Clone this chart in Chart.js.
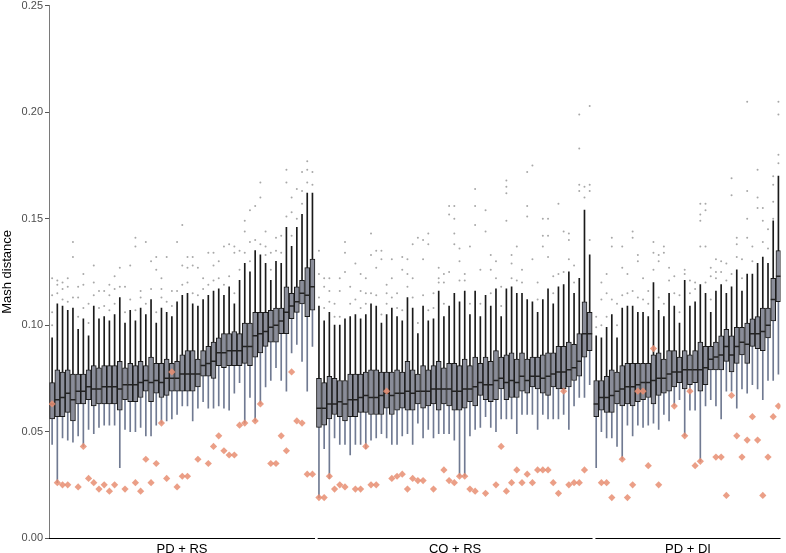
<!DOCTYPE html>
<html>
<head>
<meta charset="utf-8">
<script src="https://cdn.jsdelivr.net/npm/chart.js@4.4.1/dist/chart.umd.min.js"></script>
<style>
  html, body { margin: 0; padding: 0; background: #fff; }
  #wrap { width: 786px; height: 553px; }
</style>
</head>
<body>
<div id="wrap"><canvas id="myChart" width="786" height="553"></canvas></div>
<script>
const facets = ['PD + RS', 'CO + RS', 'PD + DI'];

// PD + RS
const pdrsLo = [0.044,0.026,0.047,0.046,0.045,0.048,0.043,0.051,0.049,0.052,0.053,0.053,0.053,0.033,0.051,0.050,0.050,0.052,0.048,0.048,0.053,0.054,0.055,0.056,0.058,0.062,0.062,0.055,0.061,0.064,0.061,0.061,0.062,0.061,0.060,0.068,0.073,0.054,0.066,0.055,0.063,0.071,0.074,0.080,0.074,0.069,0.087,0.091,0.083,0.069,0.090];
const pdrsQ1 = [0.056,0.057,0.057,0.059,0.055,0.063,0.063,0.065,0.062,0.063,0.063,0.063,0.063,0.060,0.065,0.064,0.064,0.066,0.069,0.064,0.068,0.066,0.067,0.069,0.069,0.069,0.069,0.069,0.071,0.076,0.076,0.075,0.081,0.080,0.081,0.081,0.081,0.082,0.081,0.085,0.087,0.090,0.092,0.092,0.096,0.096,0.103,0.106,0.110,0.104,0.107];
const pdrsMed = [0.063,0.065,0.066,0.068,0.065,0.069,0.069,0.071,0.070,0.070,0.071,0.071,0.071,0.070,0.072,0.072,0.072,0.073,0.074,0.073,0.074,0.073,0.075,0.075,0.075,0.077,0.077,0.077,0.077,0.081,0.082,0.083,0.087,0.087,0.088,0.088,0.088,0.090,0.090,0.095,0.096,0.097,0.099,0.100,0.102,0.106,0.109,0.111,0.115,0.114,0.118];
const pdrsQ3 = [0.073,0.079,0.078,0.079,0.077,0.077,0.077,0.079,0.081,0.080,0.081,0.081,0.081,0.083,0.080,0.082,0.081,0.083,0.081,0.085,0.082,0.082,0.084,0.082,0.083,0.086,0.088,0.088,0.084,0.088,0.090,0.092,0.094,0.096,0.096,0.097,0.096,0.101,0.101,0.106,0.106,0.106,0.107,0.108,0.108,0.118,0.115,0.118,0.121,0.127,0.131];
const pdrsHi = [0.094,0.110,0.109,0.107,0.108,0.098,0.103,0.095,0.109,0.103,0.104,0.102,0.105,0.113,0.101,0.107,0.102,0.108,0.105,0.112,0.101,0.108,0.106,0.104,0.111,0.114,0.115,0.110,0.109,0.112,0.114,0.116,0.117,0.114,0.118,0.110,0.121,0.129,0.125,0.135,0.133,0.129,0.121,0.130,0.129,0.146,0.137,0.146,0.152,0.162,0.162];
const pdrsRef = [0.063,0.026,0.025,0.025,null,0.024,0.043,0.028,0.026,0.023,0.025,0.022,0.025,null,0.023,null,0.026,0.022,0.037,0.026,0.035,0.054,0.028,0.078,0.024,0.029,0.029,null,0.037,null,0.035,0.043,0.048,0.041,0.039,0.039,0.053,0.054,null,0.055,0.063,null,0.035,0.035,0.048,0.041,0.078,0.055,0.054,0.030,0.030];
const pdrsOut = [[0.100,0.106,0.114,0.122],[0.115,0.119,0.121],[0.112,0.117,0.120],[0.111,0.118,0.122],[0.113,0.132,0.139],[0.104,0.113,0.118],[0.108,0.119,0.124],[0.101,0.110],[0.114,0.120,0.128],[0.108,0.116],
  [0.109,0.116],[0.107,0.114,0.119],[0.110,0.117,0.123],[0.118,0.127],[0.106,0.118],[0.112,0.128],[0.107,0.137,0.141],[0.113,0.116],[0.110,0.139],[0.117,0.130],
  [0.106,0.126,0.132],[0.113,0.117,0.122],[0.111,0.132],[0.109,0.116],[0.116,0.139],[0.119,0.128,0.147],[0.120,0.127,0.132],[0.115,0.128,0.132],[0.114,0.127],[0.117,0.122],
  [0.119,0.134],[0.121,0.128,0.134],[0.122,0.130],[0.119,0.137],[0.123,0.138],[0.115,0.134,0.137],[0.126,0.135],[0.134,0.144,0.149],[0.130,0.139,0.154],[0.140,0.156],
  [0.138,0.160,0.167],[0.133,0.137,0.144],[0.126,0.134],[0.135,0.141],[0.134,0.142],[0.151,0.167,0.173],[0.142,0.153,0.160],[0.150,0.164],[0.157,0.163,0.172],[0.167,0.173,0.177],
  [0.166,0.172]];

// CO + RS
const corsLo = [0.019,0.042,0.028,0.047,0.044,0.044,0.039,0.044,0.044,0.042,0.046,0.047,0.049,0.047,0.044,0.044,0.048,0.049,0.044,0.054,0.047,0.051,0.047,0.049,0.049,0.049,0.046,0.029,0.029,0.048,0.051,0.052,0.057,0.052,0.050,0.056,0.056,0.056,0.049,0.058,0.058,0.058,0.051,0.058,0.056,0.056,0.056,0.058,0.051,0.062,0.066,0.066,0.072];
const corsQ1 = [0.052,0.053,0.056,0.058,0.057,0.055,0.057,0.057,0.059,0.059,0.058,0.058,0.058,0.061,0.058,0.060,0.061,0.060,0.060,0.063,0.061,0.062,0.063,0.060,0.063,0.062,0.060,0.060,0.061,0.064,0.062,0.067,0.065,0.064,0.065,0.070,0.065,0.066,0.066,0.069,0.068,0.071,0.070,0.068,0.067,0.071,0.070,0.070,0.071,0.074,0.076,0.085,0.088];
const corsMed = [0.061,0.061,0.063,0.063,0.064,0.063,0.065,0.065,0.066,0.067,0.066,0.066,0.067,0.068,0.067,0.068,0.068,0.069,0.068,0.069,0.069,0.069,0.070,0.070,0.070,0.070,0.069,0.069,0.070,0.070,0.071,0.073,0.072,0.072,0.074,0.075,0.073,0.074,0.073,0.076,0.074,0.076,0.076,0.075,0.076,0.077,0.078,0.078,0.079,0.080,0.083,0.096,0.096];
const corsQ3 = [0.075,0.073,0.076,0.075,0.074,0.074,0.077,0.077,0.077,0.078,0.079,0.079,0.078,0.078,0.078,0.079,0.078,0.083,0.079,0.077,0.081,0.079,0.081,0.083,0.080,0.082,0.082,0.081,0.084,0.081,0.085,0.082,0.085,0.083,0.088,0.085,0.086,0.087,0.084,0.087,0.084,0.085,0.085,0.086,0.087,0.087,0.090,0.090,0.092,0.091,0.096,0.111,0.106];
const corsHi = [0.109,0.102,0.106,0.100,0.100,0.103,0.104,0.105,0.103,0.105,0.110,0.109,0.101,0.105,0.108,0.104,0.102,0.113,0.108,0.096,0.109,0.102,0.103,0.116,0.104,0.109,0.115,0.111,0.116,0.105,0.116,0.104,0.114,0.109,0.117,0.104,0.117,0.118,0.115,0.115,0.112,0.111,0.106,0.112,0.117,0.110,0.118,0.119,0.125,0.115,0.122,0.154,0.133];
const corsRef = [0.019,0.019,0.029,0.023,0.025,0.024,null,0.023,0.023,0.043,0.025,0.025,null,0.069,0.028,0.029,0.030,0.023,0.028,0.027,0.027,null,0.023,null,0.032,0.027,0.026,0.029,0.029,0.023,0.022,null,0.021,null,0.025,0.043,0.022,0.026,0.032,0.026,0.030,0.026,0.032,0.032,0.032,0.026,0.021,0.069,0.025,0.026,0.026,0.032,null];
const corsOut = [[0.113,0.124,0.135],[0.108,0.118,0.122],[0.111,0.116,0.122],[0.104,0.110],[0.104,0.116,0.122],[0.125,0.134,0.139],[0.110,0.118],[0.112,0.129],[0.108,0.116,0.124],[0.110,0.115,0.122],
  [0.115,0.133,0.143],[0.114,0.127,0.135],[0.105,0.131,0.135],[0.110,0.115,0.119],[0.113,0.122,0.131],[0.108,0.115],[0.107,0.126,0.132],[0.118,0.124,0.131],[0.113,0.122,0.138],[0.101,0.141],
  [0.114,0.131,0.140],[0.107,0.138,0.143],[0.108,0.115],[0.120,0.122,0.127],[0.110,0.120,0.124],[0.125,0.152,0.156],[0.138,0.143,0.150,0.156],[0.121,0.130,0.136],[0.121,0.124],[0.110,0.137],
  [0.147,0.156,0.164],[0.110,0.126],[0.144,0.154],[0.115,0.126,0.133],[0.122,0.130],[0.109,0.118],[0.149,0.162,0.165,0.168],[0.122,0.129,0.133],[0.121,0.137],[0.120,0.126],
  [0.151,0.156,0.172],[0.131,0.175],[0.112,0.120],[0.137,0.142,0.150],[0.132,0.142,0.150],[0.115,0.123],[0.124,0.157],[0.125,0.144],[0.131,0.140,0.143],[0.120,0.128],
  [0.163,0.166,0.183,0.199],[0.160,0.165],[0.140,0.163,0.166,0.203]];

// PD + DI
const pddiLo = [0.033,0.050,0.047,0.047,0.043,0.037,0.053,0.048,0.053,0.052,0.053,0.054,0.051,0.058,0.055,0.062,0.065,0.048,0.060,0.060,0.036,0.062,0.065,0.062,0.056,0.069,0.069,0.061,0.070,0.068,0.072,0.070,0.065,0.074,0.074,0.077];
const pddiQ1 = [0.057,0.060,0.059,0.059,0.063,0.062,0.063,0.062,0.064,0.065,0.066,0.063,0.067,0.068,0.069,0.071,0.073,0.070,0.072,0.073,0.069,0.072,0.079,0.079,0.079,0.083,0.078,0.082,0.086,0.082,0.090,0.089,0.088,0.094,0.102,0.111];
const pddiMed = [0.063,0.066,0.066,0.067,0.069,0.070,0.071,0.071,0.072,0.073,0.073,0.074,0.075,0.075,0.077,0.078,0.078,0.079,0.079,0.079,0.079,0.080,0.084,0.085,0.086,0.090,0.086,0.090,0.092,0.091,0.096,0.096,0.097,0.100,0.112,0.123];
const pddiQ3 = [0.074,0.074,0.076,0.079,0.078,0.081,0.082,0.082,0.082,0.082,0.082,0.086,0.087,0.084,0.088,0.088,0.085,0.088,0.086,0.088,0.092,0.090,0.090,0.092,0.095,0.098,0.095,0.099,0.099,0.101,0.103,0.104,0.108,0.108,0.122,0.135];
const pddiHi = [0.095,0.094,0.099,0.105,0.094,0.108,0.109,0.109,0.106,0.106,0.104,0.120,0.107,0.104,0.115,0.109,0.101,0.121,0.109,0.111,0.119,0.115,0.106,0.116,0.119,0.115,0.118,0.126,0.116,0.124,0.124,0.129,0.132,0.129,0.149,0.170];
const pddiRef = [null,0.026,0.026,0.019,null,0.037,0.019,0.025,0.069,0.069,0.034,0.089,0.025,null,null,0.062,null,0.048,0.069,0.034,0.036,null,null,0.038,0.038,0.020,0.067,0.048,0.038,0.046,0.057,0.046,0.020,0.038,0.057,0.062];
const pddiOut = [[0.099,0.104],[0.100,0.112,0.120],[0.104,0.115,0.124],[0.112,0.137,0.141],[0.100,0.110],[0.114,0.127,0.137],[0.115,0.124],[0.116,0.141,0.144],[0.113,0.130,0.133],[0.112,0.122],
  [0.110,0.116],[0.126,0.134,0.139],[0.113,0.130,0.133],[0.110,0.134,0.137],[0.121,0.127],[0.115,0.123],[0.106,0.114],[0.124,0.126],[0.115,0.121],[0.117,0.120],
  [0.137,0.149,0.152,0.157],[0.120,0.137,0.154,0.157],[0.112,0.123,0.127],[0.122,0.125,0.131],[0.125,0.130],[0.121,0.129],[0.124,0.161,0.169],[0.132,0.138,0.141],[0.122,0.131],[0.141,0.150,0.163,0.205],
  [0.130,0.137],[0.155,0.160,0.173],[0.139,0.149,0.155],[0.136,0.145],[0.150,0.158,0.166,0.170],[0.176,0.180,0.199,0.205]];

const groups = [
  {lo: pdrsLo, q1: pdrsQ1, med: pdrsMed, q3: pdrsQ3, hi: pdrsHi, ref: pdrsRef, out: pdrsOut},
  {lo: corsLo, q1: corsQ1, med: corsMed, q3: corsQ3, hi: corsHi, ref: corsRef, out: corsOut},
  {lo: pddiLo, q1: pddiQ1, med: pddiMed, q3: pddiQ3, hi: pddiHi, ref: pddiRef, out: pddiOut}
];

// x positions: one unit per box, small gap between panels
const groupStart = [0, 51.25, 104.5];
const panelEdges = [[-0.6, 50.5], [51.0, 103.8], [104.35, 139.9]];
const panelCenters = panelEdges.map(e => (e[0] + e[1]) / 2);

const lowWhisk = [], upWhisk = [], boxes = [], medians = [], refs = [], outliers = [];
groups.forEach((g, f) => {
  g.q1.forEach((q1, i) => {
    const x = groupStart[f] + i;
    lowWhisk.push({x: x, y: [g.lo[i], q1]});
    upWhisk.push({x: x, y: [g.q3[i], g.hi[i]]});
    boxes.push({x: x, y: [q1, g.q3[i]]});
    medians.push({x: x, y: g.med[i]});
    if (g.ref[i] !== null) refs.push({x: x, y: g.ref[i]});
    g.out[i].forEach(v => outliers.push({x: x, y: v}));
  });
});

Chart.defaults.font.family = "'Liberation Sans', Arial, sans-serif";

const panelLines = {
  id: 'panelLines',
  afterDraw(chart) {
    const ctx = chart.ctx;
    const x = chart.scales.x;
    const yb = chart.chartArea.bottom + 0.5;
    ctx.save();
    ctx.strokeStyle = '#000';
    ctx.lineWidth = 1;
    panelEdges.forEach(e => {
      ctx.beginPath();
      ctx.moveTo(x.getPixelForValue(e[0]), yb);
      ctx.lineTo(x.getPixelForValue(e[1]), yb);
      ctx.stroke();
    });
    ctx.restore();
  }
};

new Chart(document.getElementById('myChart'), {
  type: 'bar',
  data: {
    datasets: [
      {type: 'scatter', data: outliers, pointRadius: 1, pointBackgroundColor: '#a8a8a8', pointBorderWidth: 0, order: 5},
      {data: lowWhisk, backgroundColor: '#707a92', barThickness: 1, grouped: false, order: 4},
      {data: upWhisk, backgroundColor: '#1a1a1a', barThickness: 1, grouped: false, order: 4},
      {data: boxes, backgroundColor: '#8a8d99', borderColor: '#1a1a1a', borderWidth: 1, borderSkipped: false, barThickness: 5, grouped: false, order: 3},
      {type: 'scatter', data: medians, pointStyle: 'line', pointRadius: 2.5, pointBorderColor: '#222', pointBorderWidth: 1.5, order: 2},
      {type: 'scatter', data: refs, pointStyle: 'rectRot', pointRadius: 3.6, pointBackgroundColor: 'rgba(232,142,114,0.85)', pointBorderWidth: 0, order: 1}
    ]
  },
  options: {
    responsive: false,
    animation: false,
    layout: {padding: {top: 0, right: 2, left: 0, bottom: 0}},
    plugins: {legend: {display: false}, tooltip: {enabled: false}},
    scales: {
      x: {
        type: 'linear', min: -0.6, max: 139.9, offset: false,
        grid: {display: false, drawTicks: false},
        border: {display: false},
        afterBuildTicks: ax => { ax.ticks = panelCenters.map(v => ({value: v})); },
        afterFit: ax => { ax.height = 15; },
        ticks: {autoSkip: false, maxRotation: 0, padding: 4, color: '#000', font: {size: 13},
          callback: (v, i) => facets[i]}
      },
      y: {
        min: 0, max: 0.25,
        ticks: {stepSize: 0.05, callback: v => v.toFixed(2), color: '#4d4d4d', font: {size: 11, lineHeight: 0.7}, padding: 2},
        grid: {drawOnChartArea: false, drawTicks: true, tickLength: 4, color: '#555'},
        border: {display: true, color: '#7a7a7a', width: 1},
        title: {display: true, text: 'Mash distance', color: '#000', font: {size: 13}, padding: {top: 0, bottom: 2}},
        afterFit: ax => { ax.width = 49; }
      }
    }
  },
  plugins: [panelLines]
});
</script>
</body>
</html>
